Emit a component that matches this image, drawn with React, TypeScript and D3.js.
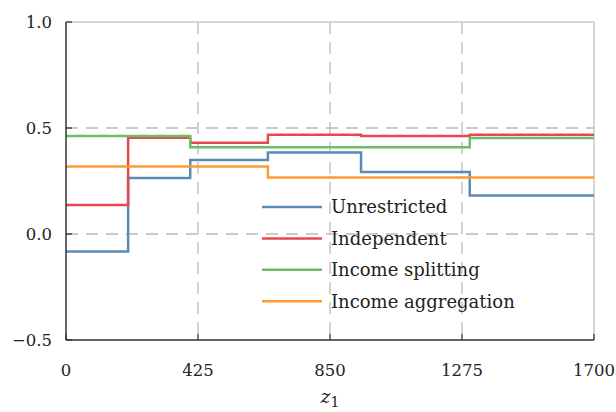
import React from "react";
import * as d3 from "d3";

const breaks = [0, 200, 400, 650, 950, 1300, 1700];
const unrestricted = [-0.083, 0.264, 0.349, 0.385, 0.293, 0.182];
const independent = [0.137, 0.454, 0.431, 0.468, 0.462, 0.468];
const incomeSplitting = [0.462, 0.462, 0.409, 0.409, 0.409, 0.453];
const incomeAggregation = [0.318, 0.318, 0.318, 0.266, 0.266, 0.266];
const seriesNames = ["Unrestricted", "Independent", "Income splitting", "Income aggregation"];
const seriesColors = ["#5b8ab6", "#e8474c", "#6cbd63", "#ff9a33"];
const xTicks = [0, 425, 850, 1275, 1700];
const yTicks = [-0.5, 0.0, 0.5, 1.0];

const W = 616, H = 412;
const M = { left: 66, right: 594, top: 22, bottom: 340 };
const FONT = "'DejaVu Serif', serif";

export default function App() {
  const x = d3.scaleLinear().domain([0, 1700]).range([M.left, M.right]);
  const y = d3.scaleLinear().domain([-0.5, 1.0]).range([M.bottom, M.top]);
  const allSeries = [unrestricted, independent, incomeSplitting, incomeAggregation];
  const line = d3.line<[number, number]>().x(d => x(d[0])).y(d => y(d[1])).curve(d3.curveStepAfter);
  const toPts = (vals: number[]): [number, number][] => {
    const pts: [number, number][] = vals.map((v, i) => [breaks[i], v]);
    pts.push([breaks[breaks.length - 1], vals[vals.length - 1]]);
    return pts;
  };
  const legX = 262, legY0 = 207, legDy = 31.4;
  return (
    <svg width={W} height={H} style={{ display: "block", position: "absolute", left: 0, top: 0 }}>
      <rect width={W} height={H} fill="white" />
      {xTicks.slice(1, -1).map(t => (
        <line key={"gx" + t} x1={x(t)} x2={x(t)} y1={M.top} y2={M.bottom} stroke="#bbb" strokeWidth={1.3} strokeDasharray="12,8" />
      ))}
      {yTicks.slice(1, -1).map(t => (
        <line key={"gy" + t} x1={M.left} x2={M.right} y1={y(t)} y2={y(t)} stroke="#bbb" strokeWidth={1.3} strokeDasharray="12,8" />
      ))}
      <line x1={M.left} x2={M.right} y1={M.top} y2={M.top} stroke="#c8c8c8" strokeWidth={1.5} />
      <line x1={M.right} x2={M.right} y1={M.top} y2={M.bottom} stroke="#c8c8c8" strokeWidth={1.5} />
      {allSeries.map((s, i) => (
        <path key={i} d={line(toPts(s)) || ""} fill="none" stroke={seriesColors[i]} strokeWidth={2.5} />
      ))}
      <line x1={M.left} x2={M.left} y1={M.top} y2={M.bottom} stroke="#333" strokeWidth={1.5} />
      <line x1={M.left} x2={M.right} y1={M.bottom} y2={M.bottom} stroke="#333" strokeWidth={1.5} />
      {yTicks.map(t => (
        <g key={"yt" + t}>
          <line x1={M.left} x2={M.left + 6} y1={y(t)} y2={y(t)} stroke="#333" strokeWidth={1.3} />
          <text x={52} y={y(t)} dy="0.35em" textAnchor="end" fontFamily={FONT} fontSize={16.5} fill="#222">
            {t < 0 ? "\u2212" + Math.abs(t).toFixed(1) : t.toFixed(1)}
          </text>
        </g>
      ))}
      {xTicks.map(t => (
        <g key={"xt" + t}>
          <line x1={x(t)} x2={x(t)} y1={M.bottom} y2={M.bottom - 6} stroke="#333" strokeWidth={1.3} />
          <text x={x(t)} y={370} dy="0.35em" textAnchor="middle" fontFamily={FONT} fontSize={16.5} fill="#222">
            {t}
          </text>
        </g>
      ))}
      <text x={x(850)} y={403} textAnchor="middle" fontFamily={FONT} fontSize={19} fontStyle="italic" fill="#222">
        z<tspan fontStyle="normal" fontSize={14} dy={4}>1</tspan>
      </text>
      {seriesNames.map((n, i) => (
        <g key={n}>
          <line x1={legX} x2={legX + 60} y1={legY0 + i * legDy} y2={legY0 + i * legDy} stroke={seriesColors[i]} strokeWidth={2.5} />
          <text x={legX + 69} y={legY0 + i * legDy} dy="0.35em" fontFamily={FONT} fontSize={18} fill="#222">
            {n}
          </text>
        </g>
      ))}
    </svg>
  );
}
